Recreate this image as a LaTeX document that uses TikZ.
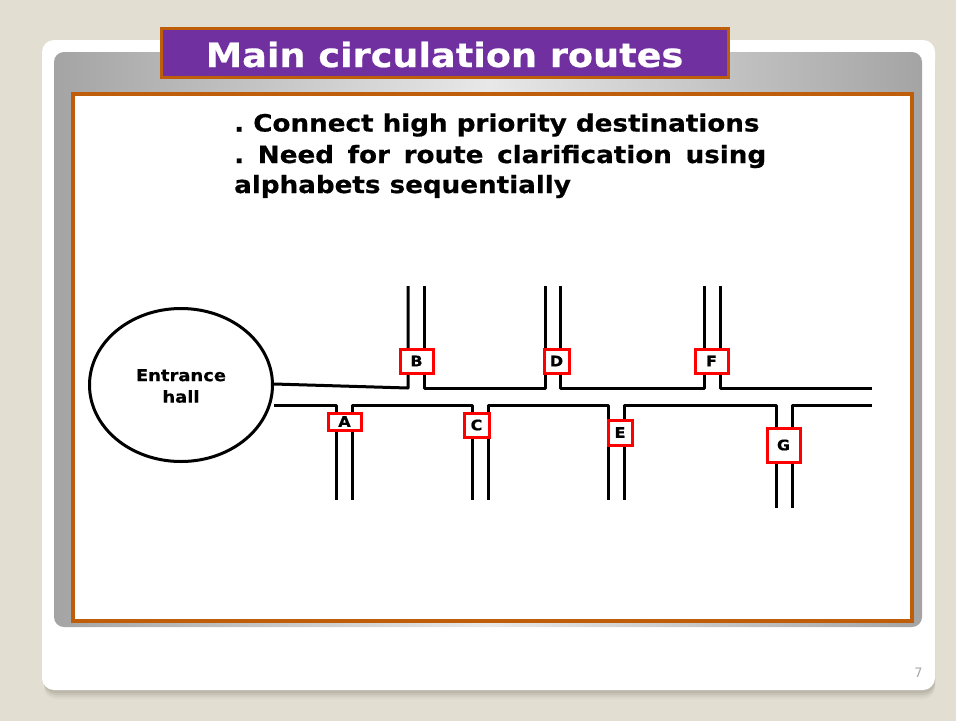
\documentclass[tikz,border=0pt]{standalone}
\usepackage{fontspec}
\setmainfont{DejaVu Sans}
\newfontfamily\widefont[FakeStretch=1.1,BoldFeatures={FakeBold=0.6}]{DejaVu Sans}
\usetikzlibrary{shapes.geometric}
\definecolor{bgbeige}{HTML}{E3DED2}
\definecolor{shadowc}{HTML}{8C8679}
\definecolor{titlepurple}{HTML}{7030A0}
\definecolor{frameorange}{HTML}{BF5E0A}
\definecolor{panelgray}{HTML}{A4A4A4}
\definecolor{panellight}{HTML}{E8E8E8}
\definecolor{pagegray}{HTML}{A8A8A8}
\tikzset{
  road/.style={line width=3pt, line join=round},
  lbl/.style={draw=red, line width=3pt, fill=white, inner sep=0pt,
    font=\widefont\fontsize{14.5}{14.5}\selectfont\bfseries},
  bodytext/.style={anchor=base west,inner sep=0pt,font=\widefont\fontsize{23.8}{28}\selectfont\bfseries},
}
\frenchspacing
\begin{document}
\begin{tikzpicture}[x=1pt,y=-1pt]
\useasboundingbox (0,0) rectangle (956,721);
\fill[bgbeige] (0,0) rectangle (956,721);
% card shadow
\foreach \o/\a in {9/0.08,7/0.10,5/0.14,3/0.18}{
  \fill[shadowc,opacity=\a,rounded corners=12pt] (44,46+\o) rectangle (935,690+\o);
}
\fill[white,rounded corners=12pt] (42,40) rectangle (935,690);
% gray panel
\shade[rounded corners=10pt,left color=panelgray,right color=panelgray,middle color=panellight] (54,52) rectangle (922,627);
% content frame
\draw[frameorange,line width=4pt,fill=white] (73,94) rectangle (912,621);
% title
\node[draw=frameorange,line width=3pt,fill=titlepurple,minimum width=567pt,minimum height=49pt,inner sep=0pt] (title) at (444.5,53) {};
\node[anchor=base,inner sep=0pt,text=white,font=\widefont\fontsize{33.3}{36}\selectfont\bfseries] (titletext) at (444.5,67) {Main circulation routes};
% bullet text
\node[bodytext] (l1) at (234,131.5) {. Connect high priority destinations};
\node[bodytext] (l2) at (234,163) {\makebox[532pt][s]{. Need for route clarification using}};
\node[bodytext] (l3) at (234,193) {alphabets sequentially};
% entrance hall
\node[draw,ellipse,line width=3pt,minimum width=183pt,minimum height=153pt,inner sep=0pt] (hall) at (181,385) {};
\node[align=center,inner sep=0pt,font=\widefont\fontsize{16.3}{21.5}\selectfont\bfseries] (halltext) at (181,386) {Entrance\\hall};
% roads
\coordinate (hu) at (274,384);
\coordinate (hl) at (274,405);
\draw[road] (hu) -- (408,388) -- (408,286);
\draw[road] (424,286) -- (424,388) -- (545,388) -- (545,286);
\draw[road] (560,286) -- (560,388) -- (704,388) -- (704,286);
\draw[road] (720,286) -- (720,388) -- (872,388);
\draw[road] (hl) -- (336,405) -- (336,500);
\draw[road] (352,500) -- (352,405) -- (472,405) -- (472,500);
\draw[road] (488,500) -- (488,405) -- (608,405) -- (608,500);
\draw[road] (624,500) -- (624,405) -- (776,405) -- (776,508);
\draw[road] (792,508) -- (792,405) -- (872,405);
% labels
\node[lbl,minimum width=33pt,minimum height=24pt] (B) at (416.5,361) {B};
\node[lbl,minimum width=25pt,minimum height=24pt] (D) at (556.5,361) {D};
\node[lbl,minimum width=33pt,minimum height=24pt] (F) at (711.5,361) {F};
\node[lbl,minimum width=33pt,minimum height=17pt] (A) at (344.5,421.5) {A};
\node[lbl,minimum width=25pt,minimum height=24pt] (C) at (476.5,425) {C};
\node[lbl,minimum width=24pt,minimum height=25pt] (E) at (620,432.5) {E};
\node[lbl,minimum width=33pt,minimum height=34pt] (G) at (783.5,445) {G};
% page number
\node[text=pagegray,font=\fontsize{13}{13}\selectfont] (pg) at (918.5,673) {7};
\end{tikzpicture}
\end{document}
